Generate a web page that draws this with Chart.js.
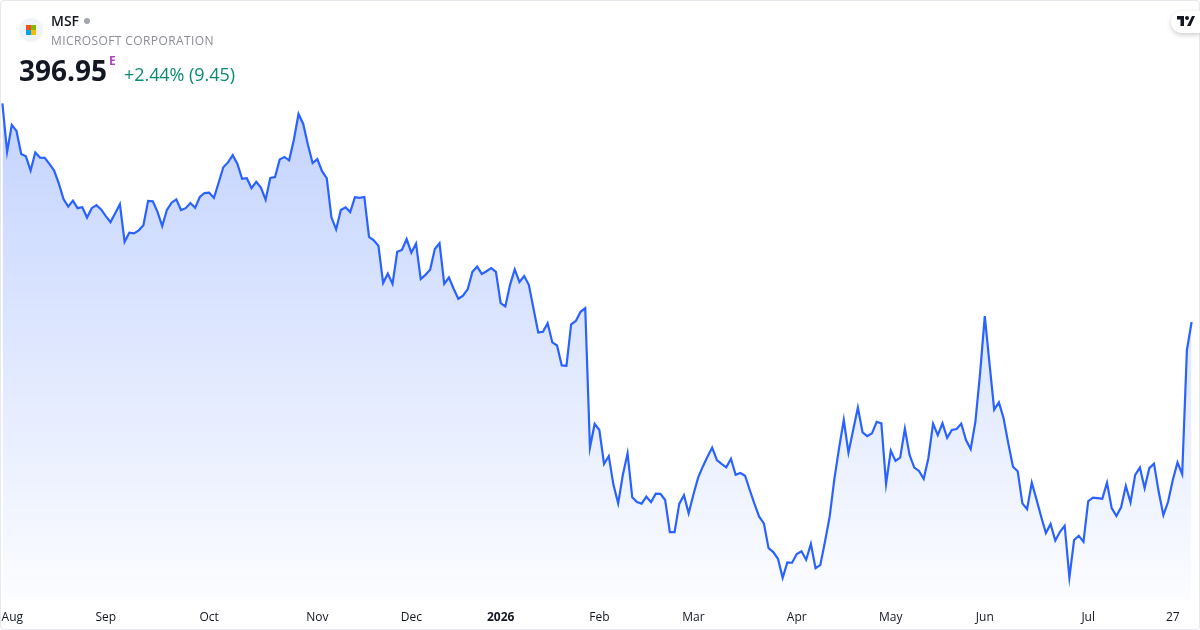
<!DOCTYPE html>
<html>
<head>
<meta charset="utf-8">
<title>MSF</title>
<script src="https://cdn.jsdelivr.net/npm/chart.js@4"></script>
<style>
  html, body { margin: 0; padding: 0; background: #fff; }
  body { width: 1200px; height: 630px; overflow: hidden; position: relative; font-family: "Open Sans", sans-serif; }
  #chart { position: absolute; left: 0; top: 0; }
  .card { position: absolute; left: 0; top: 0; width: 1198px; height: 628px; border: 1px solid #e6e8ee; border-radius: 4px; pointer-events: none; }
  .t { position: absolute; white-space: nowrap; line-height: 1; }
  .logo { position: absolute; left: 19px; top: 18px; width: 24px; height: 24px; border-radius: 50%; background: #f0f3fa; }
  .logo i { position: absolute; width: 5px; height: 5px; }
  .dot { position: absolute; left: 84px; top: 18px; width: 6px; height: 6px; border-radius: 50%; background: #a3a6af; }
  .tv { position: absolute; left: 1171px; top: 11px; width: 29px; height: 22px; background: #fff; border-radius: 11px 0 0 11px; box-shadow: 0 2px 5px rgba(0,0,0,.2); }
  .tv svg { position: absolute; left: 6px; top: 4px; }
</style>
</head>
<body>
<canvas id="chart" width="1200" height="630"></canvas>
<div class="card"></div>
<div class="logo">
  <i style="left:7px;top:7px;background:#f25022"></i><i style="left:12px;top:7px;background:#7fba00"></i>
  <i style="left:7px;top:12px;background:#00a4ef"></i><i style="left:12px;top:12px;background:#ffb900"></i>
</div>
<div class="t" style="left:51px;top:14px;font-size:14px;font-weight:600;color:#131722">MSF</div>
<div class="dot"></div>
<div class="t" style="left:51px;top:35px;font-size:12px;color:#8a8d96;letter-spacing:.4px">MICROSOFT CORPORATION</div>
<div class="t" style="left:19px;top:56px;font-size:28px;font-weight:700;color:#131722">396.95</div>
<div class="t" style="left:109px;top:55px;font-size:12px;font-weight:700;color:#ab47bc">E</div>
<div class="t" style="left:124px;top:65px;font-size:18px;color:#0b8a74;letter-spacing:-.06px">+2.44% (9.45)</div>
<div class="tv">
  <svg width="18" height="12" viewBox="0 0 36 24"><path fill="#131722" d="M0 2h14v20H7V9H0z M30 2h6l-9 20h-7z"/><circle cx="20" cy="6" r="4" fill="#131722"/></svg>
</div>
<script>
// prices, one per trading day
const prices = [
  469.1, 453.1, 462.0, 460.0, 452.4, 451.6, 446.9, 452.9, 451.2, 451.1, 449.1, 446.9, 442.7, 437.5, 435.0, 437.0,
  434.5, 434.8, 431.4, 434.5, 435.5, 434.1, 431.9, 429.9, 432.8, 435.8, 423.4, 426.4, 426.2, 427.2, 428.9, 436.9,
  436.8, 433.3, 428.6, 433.9, 436.3, 437.4, 433.9, 434.5, 436.2, 434.6, 438.2, 439.5, 439.6, 437.9, 442.9, 448.0,
  449.6, 452.0, 449.1, 444.2, 444.4, 441.1, 443.2, 441.3, 437.3, 444.5, 444.8, 450.6, 451.4, 450.3, 457.0, 465.6,
  462.3, 455.4, 449.4, 450.7, 446.7, 444.4, 431.5, 427.5, 433.9, 434.8, 433.2, 438.1, 437.9, 438.2, 425.0, 423.9,
  422.1, 409.8, 412.9, 409.5, 420.1, 420.7, 424.3, 419.8, 422.8, 411.1, 412.5, 414.2, 421.0, 422.9, 409.5, 411.6,
  407.9, 404.6, 405.6, 407.8, 413.5, 415.2, 412.8, 413.7, 414.7, 413.5, 403.2, 402.1, 409.2, 414.3, 410.1, 412.1,
  409.2, 401.3, 393.5, 393.7, 396.5, 390.2, 389.2, 382.6, 382.5, 396.2, 397.3, 400.3, 401.5,
  355.5, 363.3, 361.3, 350.1, 352.7, 343.2, 337.1, 346.5, 353.6, 339.1, 337.5, 337.0, 339.3, 337.5, 340.3, 340.2,
  338.2, 327.6, 327.6, 336.9, 339.8, 333.8, 339.9, 345.5, 349.2, 352.5, 355.5, 351.4, 350.1, 349.0, 351.8, 346.5,
  347.1, 346.2, 341.5, 336.9, 332.7, 330.5, 322.3, 321.0, 318.8, 312.5, 317.6, 317.5, 320.4, 321.3, 318.5, 323.7,
  315.7, 316.7, 324.4, 332.7, 345.2, 355.3, 364.6, 353.8, 361.3, 368.7, 360.5, 359.3, 360.2, 364.0,
  363.5, 343.5, 354.5, 351.1, 352.2, 361.7, 353.1, 348.9, 347.8, 345.2, 352.0, 363.4, 359.6, 363.5, 358.7, 361.3,
  361.6, 363.4, 358.0, 355.0, 364.0, 380.0, 398.9, 383.3, 368.0, 370.4, 365.2, 356.9, 349.2, 347.7, 337.1, 335.2,
  343.9, 338.4, 332.7, 327.3, 330.3, 324.8, 327.7, 329.7, 312.6, 325.0, 326.4, 324.4, 337.8, 339.0, 338.8, 338.6,
  343.9, 335.5, 332.9, 335.8, 342.8, 337.4, 346.5, 348.9, 342.1, 348.7, 350.2, 340.9, 333.2, 337.6, 344.8, 350.6,
  346.7, 387.7, 396.95
];
const tickLabels = ['Aug', 'Sep', 'Oct', 'Nov', 'Dec', '2026', 'Feb', 'Mar', 'Apr', 'May', 'Jun', 'Jul', '27'];
const tickIndexes = [2.1, 22, 44, 67, 87, 106, 127, 147, 169, 189, 209, 231, 249];

const ctx = document.getElementById('chart').getContext('2d');
new Chart(ctx, {
  type: 'line',
  data: {
    datasets: [{
      data: prices.map((y, x) => ({ x, y })),
      borderColor: '#2962ff',
      borderWidth: 2.2,
      tension: 0,
      pointRadius: 0,
      clip: false,
      fill: 'start',
      backgroundColor: (c) => {
        const area = c.chart.chartArea;
        if (!area) return 'rgba(41,98,255,0.28)';
        const g = c.chart.ctx.createLinearGradient(0, 103, 0, area.bottom);
        g.addColorStop(0, 'rgba(41,98,255,0.28)');
        g.addColorStop(1, 'rgba(41,98,255,0.015)');
        return g;
      },
    }],
  },
  options: {
    responsive: false,
    animation: false,
    layout: { padding: { left: 2.4, right: 8.4, top: 0, bottom: 0 } },
    plugins: { legend: { display: false }, tooltip: { enabled: false } },
    scales: {
      x: {
        type: 'linear',
        min: 0,
        max: prices.length - 1,
        grid: { display: false, drawTicks: false },
        border: { display: false },
        afterBuildTicks: (scale) => { scale.ticks = tickIndexes.map((value) => ({ value })); },
        afterFit: (scale) => {
          scale.height = 30;
          scale.paddingLeft = 0; // Aug label sits past the plot edge, no room needed
          scale.paddingRight = 0;
        },
        ticks: {
          autoSkip: false,
          maxRotation: 0,
          padding: 10,
          color: '#131722',
          font: (c) => ({
            family: '"Open Sans", sans-serif',
            size: 12,
            weight: c.tick && c.index === 5 ? '700' : '400',
          }),
          callback: (value, index) => tickLabels[index],
        },
      },
      y: {
        display: false,
        min: 305.2,
        max: 503.2,
      },
    },
  },
});
</script>
</body>
</html>
